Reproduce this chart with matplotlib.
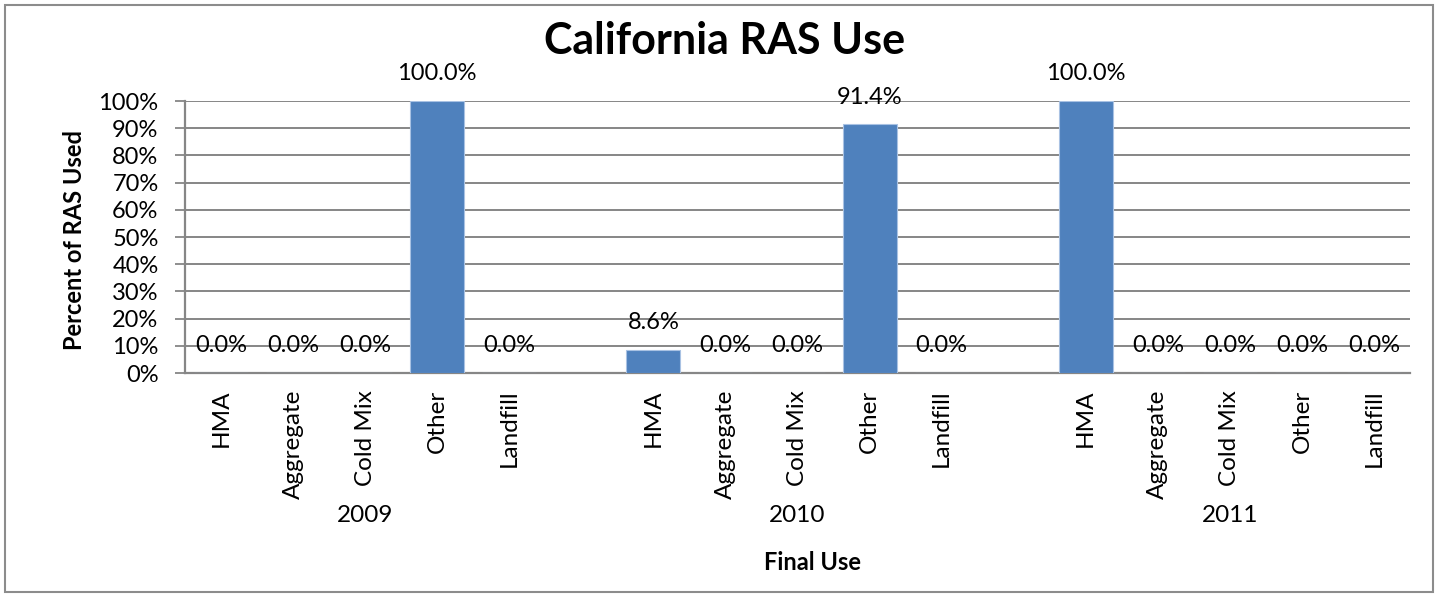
import matplotlib
matplotlib.use("Agg")
import matplotlib.pyplot as plt
from matplotlib.patches import Rectangle
from matplotlib.transforms import blended_transform_factory

years = ["2009", "2010", "2011"]
categories = ["HMA", "Aggregate", "Cold Mix", "Other", "Landfill"]
values_2009 = [0.0, 0.0, 0.0, 100.0, 0.0]
values_2010 = [8.6, 0.0, 0.0, 91.4, 0.0]
values_2011 = [100.0, 0.0, 0.0, 0.0, 0.0]
yticks = [0, 10, 20, 30, 40, 50, 60, 70, 80, 90, 100]

series = [values_2009, values_2010, values_2011]

FONT = "Lato"
BAR = "#4F81BD"
GRID = "#868686"

W, H = 1442, 597
fig = plt.figure(figsize=(W / 100, H / 100), dpi=100)
ax = fig.add_axes([185 / W, 1 - 373 / H, (1410 - 185) / W, (373 - 101) / H])

n = len(categories)
positions, labels, vals = [], [], []
group_centers = []
for g, yv in enumerate(series):
    start = g * (n + 1)
    for i, (c, v) in enumerate(zip(categories, yv)):
        positions.append(start + i)
        labels.append(c)
        vals.append(v)
    group_centers.append(start + (n - 1) / 2)

total = len(series) * (n + 1) - 1
ax.bar(positions, vals, width=0.75, color=BAR, edgecolor="#A9C2E3", linewidth=0.8, zorder=3)
ax.set_xlim(-0.5, total - 0.5)
ax.set_ylim(0, 100)

for x, v in zip(positions, vals):
    ax.annotate(f"{v:.1f}%", (x, v), xytext=(0, 19.5), textcoords="offset points",
                ha="center", va="center", fontsize=17, family=FONT, color="black", zorder=4)

ax.set_yticks(yticks)
ax.set_yticklabels([f"{t}%" for t in yticks], fontsize=17, family=FONT)
ax.set_xticks(positions)
ax.set_xticklabels(labels, rotation=90, fontsize=17.5, family=FONT, va="top", ha="center")
ax.tick_params(axis="x", length=0, pad=12)
ax.tick_params(axis="y", length=7, width=1.3, color=GRID, pad=12, direction="out")

ax.grid(axis="y", color=GRID, linewidth=1.4, zorder=0)
ax.set_axisbelow(True)
for s in ["top", "right"]:
    ax.spines[s].set_visible(False)
for s in ["left", "bottom"]:
    ax.spines[s].set_color(GRID)
    ax.spines[s].set_linewidth(1.6)

tr = blended_transform_factory(ax.transData, ax.transAxes)
for gc, yr in zip(group_centers, years):
    ax.text(gc, (373 - 515) / 272, yr, transform=tr, ha="center", va="center",
            fontsize=17.5, family=FONT)

fig.text(812 / W, 1 - 562 / H, "Final Use", ha="center", va="center",
         fontsize=17, fontweight="bold", family=FONT)
fig.text(75 / W, 1 - 240 / H, "Percent of RAS Used", ha="center", va="center",
         rotation=90, fontsize=17, fontweight="bold", family=FONT)
fig.text(725 / W, 1 - 41 / H, "California RAS Use", ha="center", va="center",
         fontsize=31, fontweight="bold", family=FONT)

fig.patches.append(Rectangle((5 / W, 5 / H), (1433 - 5) / W, (592 - 5) / H,
                             transform=fig.transFigure, fill=False,
                             edgecolor="#8C8C8C", linewidth=1.5))

fig.savefig("out.png", dpi=100)
